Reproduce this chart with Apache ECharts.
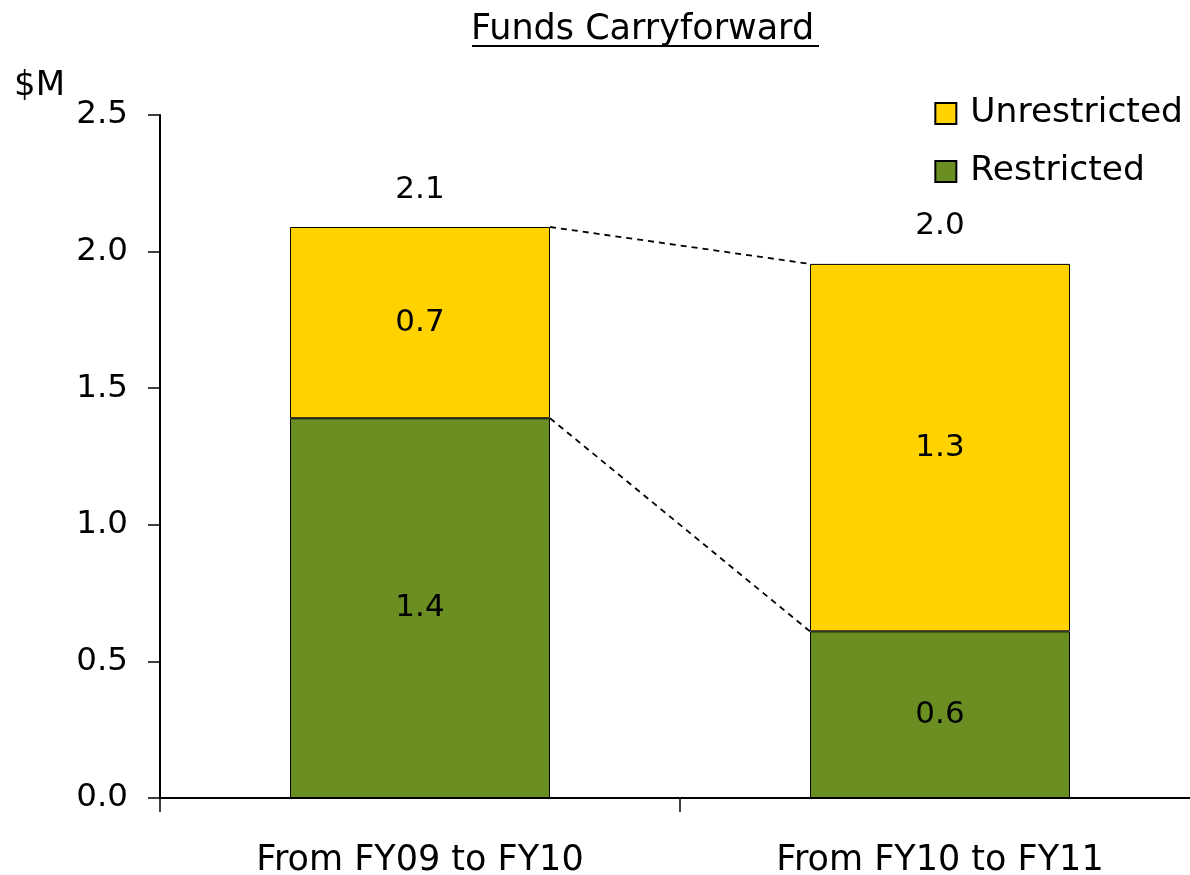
<!DOCTYPE html>
<html style="height: 100%">
<head>
  <meta charset="utf-8">
</head>
<body style="height: 100%; margin: 0; background: #fff; overflow: hidden">
  <div id="container" style="width: 1200px; height: 875px"></div>
  <script src="https://cdn.jsdelivr.net/npm/echarts@6/dist/echarts.min.js"></script>
  <script>
    var categories = ['From FY09 to FY10', 'From FY10 to FY11'];
    var restricted = [1.39, 0.61];
    var unrestricted = [0.70, 1.345];
    var yTicks = [0, 0.5, 1.0, 1.5, 2.0, 2.5];

    var totals = restricted.map(function (v, i) { return v + unrestricted[i]; });
    var font = 'DejaVu Sans';

    // the plot runs a little past the right edge of the window, like the original
    var chart = echarts.init(document.getElementById('container'), null, { renderer: 'canvas' });

    var option = {
      animation: false,
      textStyle: { fontFamily: font, color: '#000' },
      title: {
        text: 'Funds Carryforward',
        left: 466,
        top: 7,
        textStyle: { fontFamily: font, fontSize: 35, fontWeight: 'normal', color: '#000' }
      },
      graphic: [
        // underline under the title
        { type: 'rect', shape: { x: 472, y: 45, width: 347, height: 2 }, style: { fill: '#000' } },
        { type: 'text', left: 14, top: 69, style: { text: '$M', font: '34px "DejaVu Sans"', fill: '#000' } }
      ],
      legend: {
        data: ['Unrestricted', 'Restricted'],
        orient: 'vertical',
        right: 12,
        top: 91,
        itemWidth: 21,
        itemHeight: 21,
        itemGap: 23,
        icon: 'rect',
        textStyle: { fontFamily: font, fontSize: 34.5, color: '#000', padding: [0, 0, 0, 9] }
      },
      grid: { left: 160, right: 0, top: 115, bottom: 77, outerBoundsMode: 'none', containLabel: false },
      xAxis: [
        {
          type: 'category',
          data: categories,
          axisLine: { lineStyle: { color: '#000', width: 2 } },
          axisTick: { show: true, length: 14, lineStyle: { color: '#000', width: 1.5 } },
          axisLabel: { fontFamily: font, fontSize: 35, color: '#000', margin: 45 }
        },
        { type: 'value', min: 0, max: 2, show: false }
      ],
      yAxis: {
        type: 'value',
        min: yTicks[0],
        max: yTicks[yTicks.length - 1],
        interval: 0.5,
        splitLine: { show: false },
        axisLine: { show: true, lineStyle: { color: '#000', width: 2 } },
        axisTick: { show: true, length: 12, lineStyle: { color: '#000', width: 1.5 } },
        axisLabel: {
          fontFamily: font, fontSize: 32.5, color: '#000', margin: 32,
          formatter: function (v) { return v.toFixed(1); }
        }
      },
      series: [
        {
          name: 'Restricted',
          type: 'bar',
          stack: 'total',
          barWidth: '50%',
          data: restricted,
          itemStyle: { color: '#6B8E23', borderColor: '#000', borderWidth: 1 },
          label: {
            show: true, position: 'inside', fontFamily: font, fontSize: 31, color: '#000',
            formatter: function (p) { return p.value.toFixed(1); }
          }
        },
        {
          name: 'Unrestricted',
          type: 'bar',
          stack: 'total',
          data: unrestricted,
          itemStyle: { color: '#FFD200', borderColor: '#000', borderWidth: 1 },
          label: {
            show: true, position: 'inside', fontFamily: font, fontSize: 31, color: '#000',
            formatter: function (p) { return p.value.toFixed(1); }
          }
        },
        {
          name: 'Total',
          type: 'bar',
          stack: 'total',
          data: totals.map(function () { return 0; }),
          itemStyle: { color: 'transparent' },
          label: {
            show: true, position: 'top', distance: 22, fontFamily: font, fontSize: 31, color: '#000',
            formatter: function (p) { return totals[p.dataIndex].toFixed(1); }
          }
        },
        {
          type: 'line',
          xAxisIndex: 1,
          data: [[0.75, totals[0]], [1.25, totals[1]]],
          symbol: 'none',
          lineStyle: { color: '#000', width: 1.8, type: [6, 5] },
          z: 1
        },
        {
          type: 'line',
          xAxisIndex: 1,
          data: [[0.75, restricted[0]], [1.25, restricted[1]]],
          symbol: 'none',
          lineStyle: { color: '#000', width: 1.8, type: [6, 5] },
          z: 1
        }
      ]
    };

    chart.setOption(option);
    window.addEventListener('resize', chart.resize);
  </script>
</body>
</html>
